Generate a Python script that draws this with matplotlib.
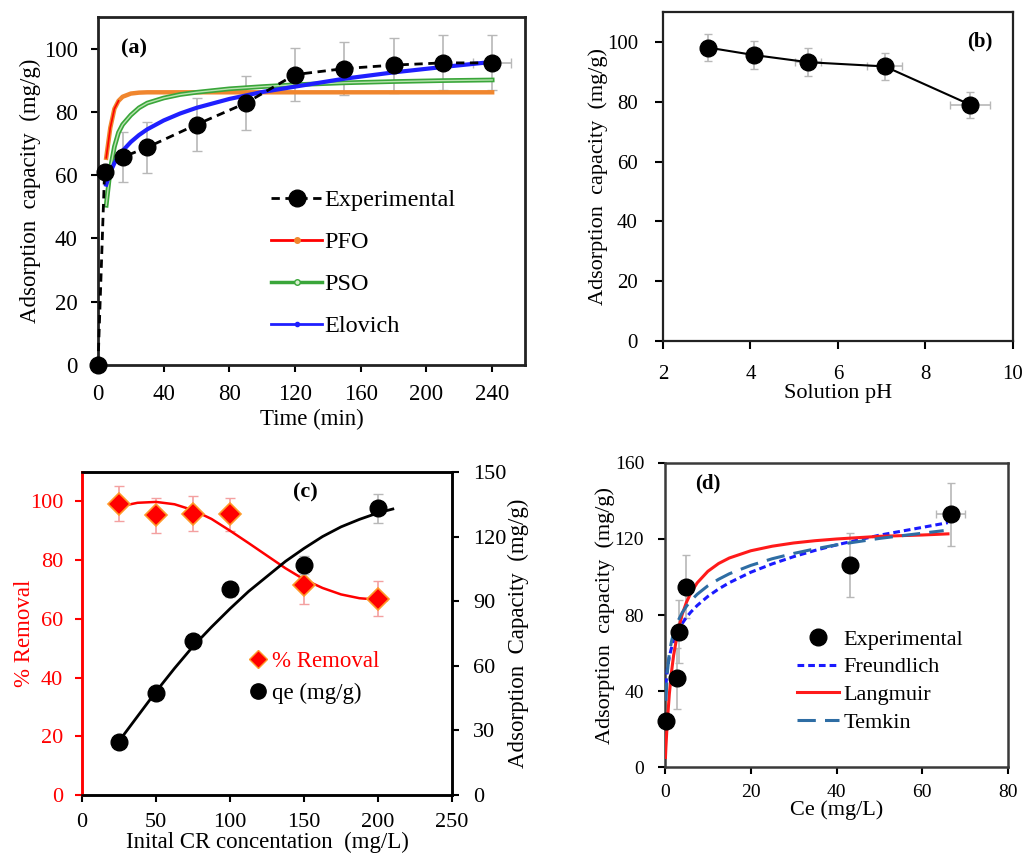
import matplotlib
matplotlib.use('Agg')
import matplotlib.pyplot as plt
from matplotlib.lines import Line2D
from matplotlib.patches import Rectangle

plt.rcParams['font.family'] = ['Liberation Serif', 'DejaVu Serif']

# (a) kinetics
t_exp = [0, 4, 15, 30, 60, 90, 120, 150, 180, 210, 240]
q_exp = [0, 61, 65.7, 68.8, 76, 82.8, 91.8, 93.7, 94.8, 95.5, 95.5]
q_err = [0, 0, 8, 8, 8.3, 8.5, 8.5, 8.5, 8.7, 8.7, 8.7]
t_err = [0, 0, 0, 0, 0, 0, 0, 0, 0, 0, 11.5]

t_fit = [5, 7.5, 10, 12.5, 15, 20, 25, 30, 40, 50, 60, 80, 100, 120, 150, 180, 210, 240]
q_pfo = [65.5, 75, 81, 83.5, 84.8, 85.8, 86.1, 86.2, 86.2, 86.2, 86.2, 86.2, 86.2, 86.2, 86.2, 86.2, 86.2, 86.2]
q_pso = [50.5, 62, 69, 73.5, 76, 79, 81.3, 82.8, 84.4, 85.5, 86.2, 87.3, 88, 88.6, 89.2, 89.6, 89.9, 90.1]
q_elo = [57, 61, 63.8, 66, 67.7, 70.5, 72.7, 74.5, 77.3, 79.5, 81.3, 84.1, 86.3, 88.0, 90.5, 92.5, 94.2, 95.8]

# (b) pH
ph = [3.03, 4.08, 5.32, 7.07, 9.02]
q_ph = [98.1, 95.6, 93.2, 91.8, 79]
q_ph_err = [4.5, 4.8, 4.7, 4.5, 4.3]
ph_err = [0.1, 0.1, 0.3, 0.4, 0.46]

# (c) initial concentration
c0 = [25, 50, 75, 100, 150, 200]
removal = [99.2, 95.2, 95.8, 95.6, 71.4, 66.9]
removal_err = [6, 5.9, 6, 5.7, 6.5, 6]
qe_c = [24.5, 47.5, 71.7, 95.5, 106.8, 133.2]
qe_c_err = [0, 0, 0, 3.5, 4, 6.7]
c_fit = [25, 37.5, 50, 62.5, 75, 87.5, 100, 112.5, 125, 137.5, 150, 162.5, 175, 187.5, 200, 206]
removal_fit = [98.2, 99.5, 99.8, 99, 97, 94, 90, 85.8, 81.5, 77.2, 73.4, 70.5, 68.3, 67, 66.5, 66.4]
c_fit2 = [25, 37.5, 50, 62.5, 75, 87.5, 100, 112.5, 125, 137.5, 150, 162.5, 175, 187.5, 200, 210]
qe_fit = [25, 36.5, 48, 58.8, 69, 78, 86.5, 94.5, 101.5, 108.5, 114.5, 120, 124.5, 128, 131, 132.8]

# (d) isotherms
ce = [0.23, 2.7, 3.26, 4.9, 43.1, 66.6]
qe_d = [24.4, 46.7, 71.2, 94.9, 106.3, 133]
qe_d_err = [0, 16, 16.5, 16.5, 17, 16.5]
ce_err = [0, 0, 0, 0, 1.5, 3.3]
ce_fit = [0.1, 0.2, 0.5, 1, 1.5, 2, 3, 4, 5, 6, 7.5, 10, 12.5, 15, 20, 25, 30, 35, 40, 50, 60, 66]
q_freund = [37.5, 42.7, 50.9, 58, 62.6, 66.2, 71.5, 75.5, 78.8, 81.5, 85, 89.8, 93.7, 97,
            102.5, 106.9, 110.7, 114, 116.9, 122, 126.1, 128.6]
q_lang = [5, 10.1, 22.5, 38.2, 49.8, 58.7, 71.5, 80.3, 86.7, 91.5, 96.9, 103, 107.1, 110,
          113.8, 116.2, 117.9, 119.1, 120, 121.4, 122.1, 122.7]
ce_tem = [0.2, 0.5, 1, 1.5, 2, 3, 4, 5, 6, 7.5, 10, 12.5, 15, 20, 25, 30, 35, 40, 50, 65]
q_tem = [34.8, 49, 59.7, 66, 70.4, 76.7, 81.2, 84.6, 87.5, 90.9, 95.4, 98.8, 101.7, 106.1,
         109.6, 112.4, 114.8, 116.9, 120.3, 124.4]

grey = '#b8b8b8'

fig = plt.figure(figsize=(10.25, 8.55), dpi=100)

# ---------------- (a)
ax = fig.add_axes([0.0956, 0.5731, 0.4166, 0.4070])
ax.plot(t_fit, q_pfo, color='#f0862e', lw=3.2, zorder=3)
ax.plot(t_fit[:4], q_pfo[:4], color='red', lw=1.2, zorder=3)
ax.plot(t_fit, q_pso, color='#3aa63a', lw=3.4, zorder=3)
ax.plot(t_fit, q_pso, color='#b9e3b0', lw=1.0, zorder=3)
ax.plot(t_fit, q_elo, color='#1f1fff', lw=3.0, zorder=3)
ax.errorbar(t_exp, q_exp, yerr=q_err, xerr=t_err, fmt='none', ecolor=grey,
            elinewidth=1.2, capsize=3.5, zorder=2)
ax.plot(t_exp, q_exp, color='black', ls=(0, (3, 2)), lw=2, marker='o', ms=12,
        zorder=4, clip_on=False)
ax.set_xlim(0, 260)
ax.set_ylim(0, 110)
ax.set_xticks(range(0, 241, 40))
ax.set_yticks(range(0, 101, 20))
ax.tick_params(direction='out', length=5, width=1.5, labelsize=16.5)
ax.tick_params(axis='x', pad=8.5)
ax.tick_params(axis='y', pad=9.5)
for s in ax.spines.values():
    s.set_linewidth(2)
    s.set_color('#222222')
ax.set_ylabel('Adsorption  capacity  (mg/g)', fontsize=16.5, labelpad=2)
ax.set_xlabel('Time (min)', fontsize=16.5, labelpad=3)
ax.text(0.054, 0.91, '(a)', transform=ax.transAxes, fontsize=16, fontweight='bold',
        va='center')
handles = [
    Line2D([], [], color='black', ls=(0, (3, 2)), lw=2, marker='o', ms=12),
    Line2D([], [], color='red', lw=2, marker='o', ms=4, mfc='#f0862e', mec='#f0862e'),
    Line2D([], [], color='#3aa63a', lw=2.5, marker='o', ms=4, mfc='#d9f0d0', mec='#3aa63a'),
    Line2D([], [], color='#1f1fff', lw=2, marker='o', ms=3, mfc='#1f1fff'),
]
ax.legend(handles, ['Experimental', 'PFO', 'PSO', 'Elovich'], loc='upper left',
          bbox_to_anchor=(0.377, 0.54), frameon=False, fontsize=17.5,
          handlelength=2.1, handletextpad=0.1, labelspacing=0.82, borderpad=0)
# the source crop cuts the bottom of the x label
fig.patches.append(Rectangle((0.15, 1 - 442 / 855), 0.4, 12 / 855, color='white',
                             transform=fig.transFigure, zorder=10))

# ---------------- (b)
ax = fig.add_axes([0.6468, 0.6012, 0.3415, 0.3848])
ax.errorbar(ph, q_ph, yerr=q_ph_err, xerr=ph_err, fmt='none', ecolor=grey,
            elinewidth=1.2, capsize=3, zorder=2)
ax.plot(ph, q_ph, color='black', lw=1.5, marker='o', ms=12, zorder=3)
ax.set_xlim(2, 10)
ax.set_ylim(0, 110)
ax.set_xticks(range(2, 11, 2))
ax.set_yticks(range(0, 101, 20))
ax.tick_params(direction='out', length=6, width=1.5, labelsize=15)
ax.tick_params(axis='x', pad=11)
ax.tick_params(axis='y', pad=12)
for s in ax.spines.values():
    s.set_linewidth(1.6)
    s.set_color('#222222')
ax.set_ylabel('Adsorption  capacity  (mg/g)', fontsize=16)
ax.yaxis.set_label_coords(-0.157, 0.5)
ax.set_xlabel('Solution pH', fontsize=16, labelpad=0)
ax.text(0.94, 0.91, '(b)', transform=ax.transAxes, fontsize=15, fontweight='bold',
        va='center', ha='right')

# ---------------- (c)
ax = fig.add_axes([0.0800, 0.0702, 0.3610, 0.3778])
ax2 = ax.twinx()
ax.errorbar(c0, removal, yerr=removal_err, fmt='none', ecolor='#f4a0a0',
            elinewidth=1.2, capsize=3.5, zorder=2)
ax.plot(c_fit, removal_fit, color='red', lw=1.8, zorder=3)
ax.plot(c0, removal, ls='none', marker='D', ms=11, mfc='red', mec='#ff9a2a',
        mew=1.2, zorder=4)
ax2.errorbar(c0, qe_c, yerr=qe_c_err, fmt='none', ecolor=grey,
             elinewidth=1.2, capsize=3.5, zorder=2)
ax2.plot(c_fit2, qe_fit, color='black', lw=2, zorder=3)
ax2.plot(c0, qe_c, ls='none', marker='o', ms=12, color='black', zorder=4)
ax.set_xlim(0, 250)
ax.set_ylim(0, 110)
ax2.set_ylim(0, 150)
ax.set_xticks(range(0, 251, 50))
ax.set_yticks(range(0, 101, 20))
ax2.set_yticks(range(0, 151, 30))
ax.tick_params(direction='out', length=5, width=1.5, labelsize=16)
ax.tick_params(axis='x', pad=8)
ax.tick_params(axis='y', colors='red', pad=8.5)
ax2.tick_params(direction='out', length=5, width=1.5, labelsize=16, pad=10)
for a in (ax, ax2):
    for s in a.spines.values():
        s.set_linewidth(1.8)
        s.set_color('black')
ax2.spines['left'].set_color('red')
ax.spines['left'].set_color('red')
ax.set_ylabel('% Removal', fontsize=16.5, color='red')
ax.yaxis.set_label_coords(-0.127, 0.5)
ax2.set_ylabel('Adsorption  Capacity  (mg/g)', fontsize=16.5, labelpad=1)
ax.set_xlabel('Inital CR concentation  (mg/L)', fontsize=16.5, labelpad=0)
ax.text(0.57, 0.935, '(c)', transform=ax.transAxes, fontsize=16, fontweight='bold',
        va='center')
h1 = Line2D([], [], ls='none', marker='D', ms=9, mfc='red', mec='#ff9a2a')
h2 = Line2D([], [], ls='none', marker='o', ms=11, color='black')
leg = ax2.legend([h1, h2], ['% Removal', 'qe (mg/g)'], loc='upper left',
                 bbox_to_anchor=(0.42, 0.48), frameon=False, fontsize=16.5,
                 handlelength=0.8, handletextpad=0.2, labelspacing=0.45, borderpad=0)
leg.get_texts()[0].set_color('red')

# ---------------- (d)
ax = fig.add_axes([0.6488, 0.1029, 0.3346, 0.3556])
ax.errorbar(ce, qe_d, yerr=qe_d_err, xerr=ce_err, fmt='none', ecolor=grey,
            elinewidth=1.2, capsize=3, zorder=2)
ax.plot(ce_fit, q_freund, color='#1a1aff', lw=2.2, ls=(0, (2.2, 1.3)), zorder=3)
ax.plot(ce_fit, q_lang, color='#ff1a1a', lw=2.2, zorder=3)
ax.plot(ce_tem, q_tem, color='#2e6da4', lw=2.2, ls=(0, (6, 3)), zorder=3)
ax.plot(ce, qe_d, ls='none', marker='o', ms=12, color='black', zorder=4,
        clip_on=False)
ax.set_xlim(0, 80)
ax.set_ylim(0, 160)
ax.set_xticks(range(0, 81, 20))
ax.set_yticks(range(0, 161, 40))
ax.tick_params(direction='out', length=5, width=1.5, labelsize=14)
ax.tick_params(axis='x', pad=7)
ax.tick_params(axis='y', pad=10)
for s in ax.spines.values():
    s.set_linewidth(1.8)
    s.set_color('#3a3a3a')
ax.set_ylabel('Adsorption  capacity  (mg/g)', fontsize=16, labelpad=0)
ax.set_xlabel('Ce (mg/L)', fontsize=16, labelpad=0)
ax.text(0.087, 0.933, '(d)', transform=ax.transAxes, fontsize=15, fontweight='bold',
        va='center')
handles = [
    Line2D([], [], ls='none', marker='o', ms=12, color='black'),
    Line2D([], [], color='#1a1aff', lw=2.2, ls=(0, (2.2, 1.3))),
    Line2D([], [], color='#ff1a1a', lw=2.2),
    Line2D([], [], color='#2e6da4', lw=2.2, ls=(0, (6, 3))),
]
ax.legend(handles, ['Experimental', 'Freundlich', 'Langmuir', 'Temkin'],
          loc='upper left', bbox_to_anchor=(0.353, 0.49), frameon=False,
          fontsize=16, handlelength=1.9, handletextpad=0.2, labelspacing=0.32,
          borderpad=0)

fig.savefig('out.png', dpi=100)
